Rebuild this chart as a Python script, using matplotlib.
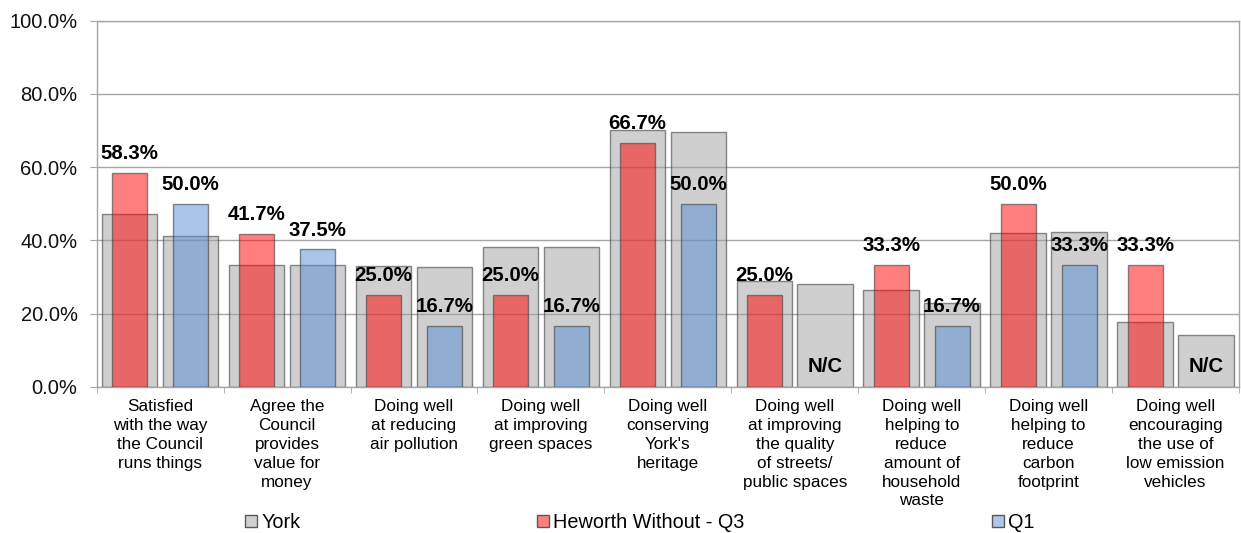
import numpy as np
import matplotlib
matplotlib.use("Agg")
import matplotlib.pyplot as plt
from matplotlib.patches import Patch
from matplotlib.ticker import FixedLocator, FuncFormatter

plt.rcParams['font.family'] = ['Liberation Sans', 'DejaVu Sans']

categories = [
    "Satisfied\nwith the way\nthe Council\nruns things",
    "Agree the\nCouncil\nprovides\nvalue for\nmoney",
    "Doing well\nat reducing\nair pollution",
    "Doing well\nat improving\ngreen spaces",
    "Doing well\nconserving\nYork's\nheritage",
    "Doing well\nat improving\nthe quality\nof streets/\npublic spaces",
    "Doing well\nhelping to\nreduce\namount of\nhousehold\nwaste",
    "Doing well\nhelping to\nreduce\ncarbon\nfootprint",
    "Doing well\nencouraging\nthe use of\nlow emission\nvehicles",
]
york_q3 = [47.3, 33.3, 33.1, 38.3, 70.1, 28.9, 26.3, 42.0, 17.7]
york_q1 = [41.1, 33.3, 32.6, 38.3, 69.5, 28.1, 22.8, 42.2, 14.1]
heworth_q3 = [58.3, 41.7, 25.0, 25.0, 66.7, 25.0, 33.3, 50.0, 33.3]
heworth_q1 = [50.0, 37.5, 16.7, 16.7, 50.0, None, 16.7, 33.3, None]
legend_labels = ["York", "Heworth Without - Q3", "Q1"]
y_ticks = [0, 20, 40, 60, 80, 100]

W, H = 1241, 533
fig = plt.figure(figsize=(W / 100, H / 100), dpi=100)
ax = fig.add_axes([96.7 / W, 1 - 386.7 / H, (1239 - 96.7) / W, (386.7 - 20.7) / H])

x = np.arange(len(categories))
off = 0.24
gw, cw = 0.438, 0.276
grey_face = (0.63, 0.63, 0.63, 0.5)
grey_edge = (0.25, 0.25, 0.25, 0.6)
red_face = (1.0, 0.0, 0.0, 0.5)
blue_face = (0.33, 0.55, 0.83, 0.5)

ax.bar(x - off, york_q3, width=gw, color=grey_face, edgecolor=grey_edge, linewidth=1.0, zorder=2)
ax.bar(x + off, york_q1, width=gw, color=grey_face, edgecolor=grey_edge, linewidth=1.0, zorder=2)
ax.bar(x - off, heworth_q3, width=cw, color=red_face, edgecolor=grey_edge, linewidth=1.0, zorder=3)
q1_vals = [np.nan if v is None else v for v in heworth_q1]
ax.bar(x + off, q1_vals, width=cw, color=blue_face, edgecolor=grey_edge, linewidth=1.0, zorder=3)

lbl_kw = dict(ha='center', va='center', fontsize=14.7, fontweight='bold', color='black', zorder=5,
              textcoords='offset points')
for i, v in enumerate(heworth_q3):
    ax.annotate(f"{v:.1f}%", (x[i] - off, v), xytext=(0, 14), **lbl_kw)
for i, v in enumerate(heworth_q1):
    if v is None:
        ax.annotate("N/C", (x[i] + off, 0), xytext=(0, 14.2), **lbl_kw)
    else:
        ax.annotate(f"{v:.1f}%", (x[i] + off, v), xytext=(0, 14), **lbl_kw)

ax.set_xlim(-0.5, len(categories) - 0.5)
ax.set_ylim(0, 100)
ax.yaxis.set_major_locator(FixedLocator(y_ticks))
ax.yaxis.set_major_formatter(FuncFormatter(lambda v, p: f"{v:.1f}%"))
ax.grid(axis='y', color='#a6a6a6', linewidth=1.0, zorder=0)
ax.set_axisbelow(True)
for s in ax.spines.values():
    s.set_color('#a6a6a6')
    s.set_linewidth(1.0)

ax.set_xticks(x)
ax.set_xticklabels(categories, fontsize=12.3, linespacing=1.32, color='black')
ax.tick_params(axis='x', which='major', length=0, pad=9)
ax.set_xticks(np.arange(len(categories) + 1) - 0.5, minor=True)
ax.tick_params(axis='x', which='minor', length=4, color='#a6a6a6', direction='out')
ax.tick_params(axis='y', length=4.8, color='#a6a6a6', pad=9, labelsize=14.5, labelcolor='#111111')

handles = [
    Patch(facecolor=(0.82, 0.82, 0.82), edgecolor=(0.35, 0.35, 0.35), linewidth=1.0),
    Patch(facecolor=(1.0, 0.5, 0.5), edgecolor=(0.35, 0.35, 0.35), linewidth=1.0),
    Patch(facecolor=(0.67, 0.78, 0.92), edgecolor=(0.35, 0.35, 0.35), linewidth=1.0),
]
leg_x = [245, 537, 992]
for h, lab, lx in zip(handles, legend_labels, leg_x):
    fig.legend(handles=[h], labels=[lab], loc='center left',
               bbox_to_anchor=(lx / W, 1 - 522.5 / H), frameon=False, fontsize=14.3,
               handlelength=0.58, handleheight=0.58, handletextpad=0.25,
               borderpad=0, borderaxespad=0)

fig.savefig("out.png", dpi=100)
